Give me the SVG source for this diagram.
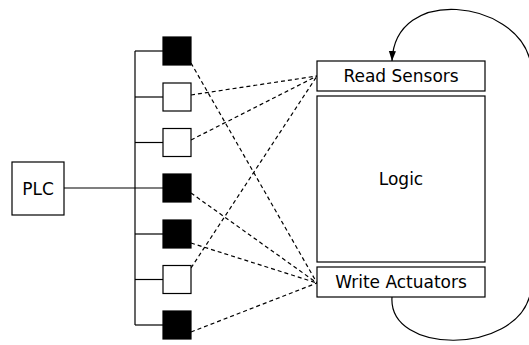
<svg xmlns="http://www.w3.org/2000/svg" width="529" height="345" viewBox="0 0 529 345">
  <style>
    .box { fill: #ffffff; stroke: #000000; stroke-width: 1.2; }
    .out { fill: #000000; stroke: #000000; stroke-width: 1.2; }
    .in { fill: #ffffff; stroke: #000000; stroke-width: 1.2; }
    .wire { fill: none; stroke: #000000; stroke-width: 1.2; }
    .dash { fill: none; stroke: #000000; stroke-width: 1.2; stroke-dasharray: 4 3; }
    .loop { fill: none; stroke: #000000; stroke-width: 1.2; }
    text { font-family: "DejaVu Sans", "Noto Sans", sans-serif; font-size: 17px; fill: #000000; text-anchor: middle; }
  </style>
  <defs>
    <marker id="arrow" markerWidth="10" markerHeight="14" refX="14" refY="5" orient="auto" markerUnits="userSpaceOnUse" viewBox="0 0 14 10">
      <path d="M0,0 L14,5 L0,10 Z" fill="#000000"/>
    </marker>
  </defs>

  <g id="connectors">
    <!-- I/O bus -->
    <line class="wire" x1="135" y1="51" x2="135" y2="325"/>
    <line class="wire" x1="64" y1="188" x2="163" y2="188"/>
    <line class="wire" x1="135" y1="51" x2="163" y2="51"/>
    <line class="wire" x1="135" y1="97" x2="163" y2="97"/>
    <line class="wire" x1="135" y1="142.5" x2="163" y2="142.5"/>
    <line class="wire" x1="135" y1="234" x2="163" y2="234"/>
    <line class="wire" x1="135" y1="279.5" x2="163" y2="279.5"/>
    <line class="wire" x1="135" y1="325" x2="163" y2="325"/>
    <!-- inputs to Read Sensors -->
    <line class="dash" x1="191" y1="95" x2="317" y2="76"/>
    <line class="dash" x1="191" y1="140" x2="317" y2="76"/>
    <line class="dash" x1="191" y1="268" x2="317" y2="76"/>
    <!-- Write Actuators to outputs -->
    <line class="dash" x1="191" y1="63" x2="317" y2="283"/>
    <line class="dash" x1="191" y1="193" x2="317" y2="283"/>
    <line class="dash" x1="191" y1="243" x2="317" y2="283"/>
    <line class="dash" x1="191" y1="332" x2="317" y2="283"/>
    <!-- scan cycle -->
    <path class="loop" marker-end="url(#arrow)" d="M392,297 C388,355 515,355 530,295 C545,240 545,120 530,60 C515,0 395,-15 392,61"/>
  </g>

  <g id="plc">
    <rect class="box" x="12" y="162" width="52" height="53"/>
    <text x="38" y="195">PLC</text>
  </g>

  <g id="io-1"><rect class="out" x="163" y="37" width="28" height="28"/></g>
  <g id="io-2"><rect class="in" x="163" y="83" width="28" height="28"/></g>
  <g id="io-3"><rect class="in" x="163" y="128.5" width="28" height="28"/></g>
  <g id="io-4"><rect class="out" x="163" y="174" width="28" height="28"/></g>
  <g id="io-5"><rect class="out" x="163" y="220" width="28" height="28"/></g>
  <g id="io-6"><rect class="in" x="163" y="265.5" width="28" height="28"/></g>
  <g id="io-7"><rect class="out" x="163" y="311" width="28" height="28"/></g>

  <g id="read-sensors">
    <rect class="box" x="317" y="61" width="168" height="30"/>
    <text x="401" y="82">Read Sensors</text>
  </g>
  <g id="logic">
    <rect class="box" x="317" y="96" width="168" height="166"/>
    <text x="401" y="185">Logic</text>
  </g>
  <g id="write-actuators">
    <rect class="box" x="317" y="267" width="168" height="30"/>
    <text x="401" y="288">Write Actuators</text>
  </g>
</svg>
